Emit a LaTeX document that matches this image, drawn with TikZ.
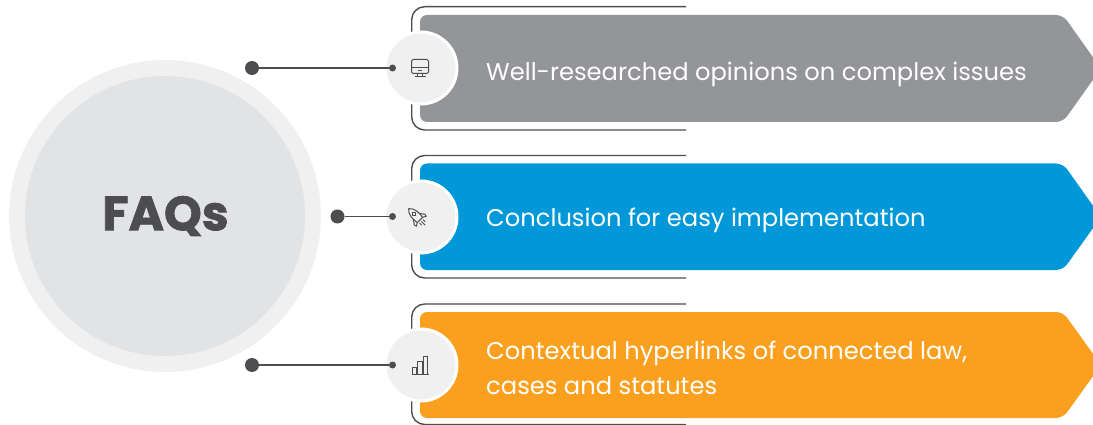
\documentclass[tikz,border=0pt]{standalone}
\usepackage{fontspec}
\setmainfont{Poppins}
\newfontfamily\faqfont[FakeBold=1.6]{Poppins Bold}
\usepackage{xcolor}
\usepackage{tikz}
\usetikzlibrary{positioning}
\definecolor{ringgrey}{HTML}{F0F0F0}
\definecolor{discgrey}{HTML}{E2E3E5}
\definecolor{inkgrey}{HTML}{4D4D4F}
\definecolor{ribbongrey}{HTML}{939598}
\definecolor{ribbonblue}{HTML}{0098D8}
\definecolor{ribbonorange}{HTML}{FAA01E}
\tikzset{
  bigdot/.style={circle, fill=inkgrey, inner sep=0, minimum size=14pt},
  pindot/.style={circle, fill=inkgrey, inner sep=0, minimum size=7pt},
  iconcircle/.style={circle, fill=ringgrey, draw=white, line width=3pt, inner sep=0, minimum size=72pt},
  ribbontext/.style={anchor=west, inner sep=0, align=left, text=white, font=\fontsize{24.2}{34.5}\selectfont},
  link/.style={inkgrey, line width=1.4pt},
  frameline/.style={inkgrey, line width=1.4pt, rounded corners=13pt},
  iconline/.style={inkgrey, line width=1pt}
}

\begin{document}
\begin{tikzpicture}[x=1pt, y=-1pt] % Faqs

      \useasboundingbox (0, 0) rectangle (1093, 425);

      \node [circle, fill=ringgrey, inner sep=0, minimum size=312pt] (outerdisc) at (165, 216) {};
      \node [circle, fill=discgrey, inner sep=0, minimum size=280pt] (innerdisc) at (165, 216) {};
      \node [text=inkgrey, font=\fontsize{48}{48}\selectfont\faqfont] (faqs) at (165.5, 216) {FAQs};

      \draw [frameline] (686, 6.7) -- (411.7, 6.7) -- (411.7, 130) -- (686, 130);
      \draw [frameline] (686, 155.5) -- (411.7, 155.5) -- (411.7, 278) -- (686, 278);
      \draw [frameline] (686, 304) -- (411.7, 304) -- (411.7, 424.5) -- (686, 424.5);

      \begin{scope}
        \clip (0, 0) rectangle (1093, 425);
        \fill [ribbongrey, rounded corners=7pt] (420, 15) -- (1063, 15) -- (1101, 68.5)
        -- (1063, 122) -- (420, 122) -- cycle;
        \fill [ribbonblue, rounded corners=7pt] (420, 163.5) -- (1063, 163.5) -- (1101, 217)
        -- (1063, 270) -- (420, 270) -- cycle;
        \fill [ribbonorange, rounded corners=7pt] (420, 312) -- (1063, 312) -- (1101, 365)
        -- (1063, 418) -- (420, 418) -- cycle;
      \end{scope}

      \node [iconcircle] (iconA) at (421, 68) {};
      \node [iconcircle] (iconB) at (421, 217) {};
      \node [iconcircle] (iconC) at (421, 365) {};

      \node [bigdot] (dotA) at (252, 68) {};
      \node [bigdot] (dotB) at (337.5, 216.5) {};
      \node [bigdot] (dotC) at (252, 365) {};
      \node [pindot] (pinA) at (392.5, 68) {};
      \node [pindot] (pinB) at (392.5, 216.5) {};
      \node [pindot] (pinC) at (392.5, 365) {};

      \draw [link] (dotA) -- (pinA);
      \draw [link] (dotB) -- (pinB);
      \draw [link] (dotC) -- (pinC);

      \node [ribbontext] (textA) at (486, 74) {Well-researched opinions on complex issues};
      \node [ribbontext] (textB) at (486, 220) {Conclusion for easy implementation};
      \node [ribbontext] (textC) at (486, 368) {Contextual hyperlinks of connected law,\\cases and statutes};

      % monitor
      \draw [iconline, rounded corners=1.5pt] (411.5, 59.5) rectangle (428.5, 73.5);
      \draw [iconline] (411.5, 68) -- (428.5, 68);
      \draw [iconline] (418, 70.8) -- (422, 70.8);
      \draw [iconline] (417.5, 73.5) -- (417.5, 77) (422.5, 73.5) -- (422.5, 77);
      \draw [iconline] (414.5, 77) -- (425.5, 77);

      % rocket
      \begin{scope}[shift={(418.5, 218.5)}, rotate=45, line join=round]
        \draw [iconline] (0, -14) .. controls (5, -10) and (4.5, -3) .. (3.8, 2)
        -- (-3.8, 2) .. controls (-4.5, -3) and (-5, -10) .. (0, -14);
        \draw [iconline] (0, -6.5) circle (1.8pt);
        \draw [iconline] (-4.2, -3) -- (-7.5, 1.5) -- (-7, 4) -- (-3.8, 2);
        \draw [iconline] (4.2, -3) -- (7.5, 1.5) -- (7, 4) -- (3.8, 2);
        \draw [iconline] (0, 4) -- (0, 9.5) (-2.5, 4) -- (-2.5, 7) (2.5, 4) -- (2.5, 7);
      \end{scope}

      % bars
      \draw [iconline] (411.5, 374) -- (429, 374);
      \draw [iconline] (412.6, 374) -- (412.6, 367) -- (416.3, 367) -- (416.3, 374);
      \draw [iconline] (417.3, 374) -- (417.3, 361.3) -- (422, 361.3) -- (422, 374);
      \draw [iconline] (423, 374) -- (423, 356.3) -- (427.8, 356.3) -- (427.8, 374);

    \end{tikzpicture}
\end{document}
